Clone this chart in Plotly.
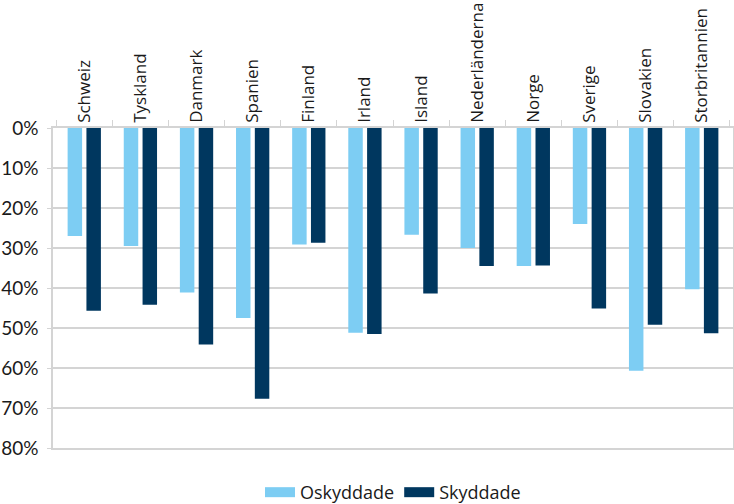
import plotly.graph_objects as go

categories = ["Schweiz", "Tyskland", "Danmark", "Spanien", "Finland", "Irland",
              "Island", "Nederländerna", "Norge", "Sverige", "Slovakien", "Storbritannien"]
oskyddade = [0.270, 0.295, 0.411, 0.475, 0.291, 0.512, 0.267, 0.300, 0.345, 0.240, 0.607, 0.403]
skyddade = [0.457, 0.442, 0.541, 0.677, 0.287, 0.515, 0.414, 0.345, 0.344, 0.451, 0.492, 0.513]
y_ticks = [0, 0.1, 0.2, 0.3, 0.4, 0.5, 0.6, 0.7, 0.8]
y_tick_labels = ["0%", "10%", "20%", "30%", "40%", "50%", "60%", "70%", "80%"]

LIGHT = "#7dcdf3"
DARK = "#00375f"
GRID = "#d4d4d4"

fig = go.Figure()
fig.add_trace(go.Bar(x=categories, y=oskyddade, name="Oskyddade",
                     marker=dict(color=LIGHT, line=dict(width=0)), showlegend=False))
fig.add_trace(go.Bar(x=categories, y=skyddade, name="Skyddade",
                     marker=dict(color=DARK, line=dict(width=0)), showlegend=False))
# legend entries (wide flat swatches)
fig.add_trace(go.Scatter(x=[None], y=[None], mode="lines", name="Oskyddade",
                         line=dict(color=LIGHT, width=10)))
fig.add_trace(go.Scatter(x=[None], y=[None], mode="lines", name="Skyddade",
                         line=dict(color=DARK, width=10)))

fig.update_layout(
    width=734, height=504,
    margin=dict(l=53, r=1, t=128, b=56, autoexpand=False),
    paper_bgcolor="white", plot_bgcolor="white",
    barmode="group", bargap=0.33, bargroupgap=0.23,
    font=dict(family="Open Sans", color="#1a1a1a"),
    legend=dict(orientation="h", x=0.5, xanchor="center", y=-0.139, yanchor="middle",
                font=dict(family="Open Sans", size=18, color="#1a1a1a"),
                itemwidth=30, tracegroupgap=0, traceorder="normal"),
    xaxis=dict(side="top", tickangle=-90, range=[-0.557, 11.557], automargin=False,
               ticks="outside", tickson="boundaries", ticklen=6, tickcolor=GRID,
               showline=True, linecolor=GRID, linewidth=1.5, mirror=True,
               showgrid=False, tickfont=dict(family="Open Sans", size=17, color="#1a1a1a")),
    yaxis=dict(range=[0.8, 0], tickvals=y_ticks, ticktext=y_tick_labels, automargin=False,
               ticks="outside", ticklen=4, tickcolor=GRID,
               showline=True, linecolor=GRID, linewidth=1.5, mirror=True,
               showgrid=True, gridcolor=GRID, gridwidth=1.5, zeroline=False,
               ticklabelstandoff=5,
               tickfont=dict(family="Lato", size=19, color="#1a1a1a")),
)

fig.write_html("out.html", config={"displayModeBar": False},
               post_script="document.body.style.margin='0';document.body.style.padding='0';")
